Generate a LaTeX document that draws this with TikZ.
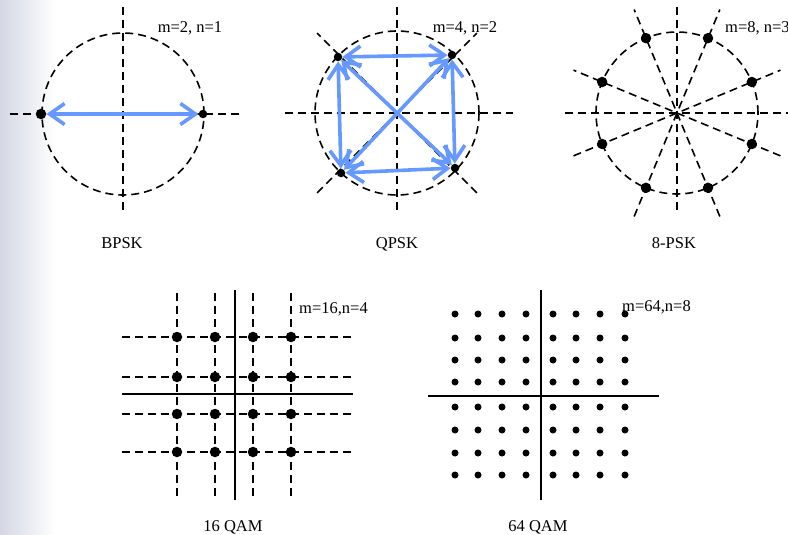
\documentclass[tikz,border=0pt]{standalone}
\usepackage{fontspec}
\setmainfont{Liberation Serif}
\usetikzlibrary{arrows.meta,calc}
\definecolor{arrblue}{RGB}{102,153,255}
\definecolor{edgegray}{RGB}{212,215,228}
\begin{document}
\begin{tikzpicture}[x=1pt,y=-1pt,
  dline/.style={line width=1.6pt,dash pattern=on 8pt off 5pt},
  sline/.style={line width=1.8pt},
  dot/.style={circle,fill=black,inner sep=0pt,minimum size=10.5pt},
  sdot/.style={circle,fill=black,inner sep=0pt,minimum size=8.5pt},
  qdot/.style={circle,fill=black,inner sep=0pt,minimum size=7pt},
  barr/.style={draw=arrblue,line width=3.6pt,line cap=round,
    {Straight Barb[length=15pt,width=21pt]}-{Straight Barb[length=15pt,width=21pt]}},
  lbl/.style={font=\fontsize{16.5}{18}\selectfont,anchor=base,inner sep=0pt}]
\useasboundingbox (0,0) rectangle (788,535);
\clip (0,0) rectangle (788,535);
\fill[white] (0,0) rectangle (788,535);
\shade[left color=edgegray,right color=white] (0,0) rectangle (55,535);

% ---------- BPSK ----------
\coordinate (bc) at (123,114);
\draw[dline] (bc) circle (81pt);
\draw[dline] (123,7) -- (123,213);
\draw[dline] (10,114) -- (243,114);
\node[dot] (b1) at (41,114) {};
\node[sdot] (b2) at (203,114) {};
\draw[barr] (b1) -- (b2);
\node[lbl] (bname) at (122,248) {BPSK};
\node[lbl] (bmn) at (190,33) {m=2, n=1};

% ---------- QPSK ----------
\coordinate (qc) at (397,113);
\draw[dline] (qc) circle (82pt);
\draw[dline] (397,7) -- (397,212);
\draw[dline] (285,113) -- (513,113);
\draw[dline] ($(qc)+(45:113)$) -- ($(qc)+(225:113)$);
\draw[dline] ($(qc)+(135:113)$) -- ($(qc)+(315:113)$);
\node[sdot] (q1) at (338,57) {};
\node[sdot] (q2) at (452,55) {};
\node[sdot] (q3) at (341,173) {};
\node[sdot] (q4) at (455,168) {};
\draw[barr] (q1) -- (q2);
\draw[barr] (q1) -- (q3);
\draw[barr] (q2) -- (q4);
\draw[barr] (q3) -- (q4);
\draw[barr] (q1) -- (q4);
\draw[barr] (q3) -- (q2);
\node[lbl] (qname) at (397,248) {QPSK};
\node[lbl] (qmn) at (465,33) {m=4, n=2};

% ---------- 8-PSK ----------
\coordinate (pc) at (677,113);
\draw[dline] (pc) circle (81pt);
\draw[dline] (677,7) -- (677,212);
\draw[dline] (565,113) -- (800,113);
\foreach \a in {22.5,67.5,112.5,157.5}{
  \draw[dline] ($(pc)+(\a:112)$) -- ($(pc)+(\a+180:112)$);
}
\foreach \k in {0,...,7}{
  \node[dot] (p\k) at ($(pc)+(22.5+45*\k:81)$) {};
}
\node[lbl] (pname) at (674,248) {8-PSK};
\node[lbl,anchor=base west] (pmn) at (725,33) {m=8, n=3};

% ---------- 16 QAM ----------
\foreach \x in {177,215,253,291}{
  \draw[dline] (\x,293) -- (\x,498);
}
\foreach \y in {337,377,414,452}{
  \draw[dline] (122,\y) -- (353,\y);
}
\draw[sline] (235,290) -- (235,500);
\draw[sline] (122,394) -- (353,394);
\foreach \x [count=\i] in {177,215,253,291}{
  \foreach \y [count=\j] in {337,377,414,452}{
    \node[dot] (s\i\j) at (\x,\y) {};
  }
}
\node[lbl] (sname) at (233,531) {16 QAM};
\node[lbl,anchor=base west] (smn) at (299,313) {m=16,n=4};

% ---------- 64 QAM ----------
\draw[sline] (541,290) -- (541,500);
\draw[sline] (428,396) -- (659,396);
\foreach \x [count=\i] in {455,478,502,526,553,576,600,625}{
  \foreach \y [count=\j] in {314,338,360,382,407,430,453,475}{
    \node[qdot] (t\i-\j) at (\x,\y) {};
  }
}
\node[lbl] (tname) at (538,531) {64 QAM};
\node[lbl,anchor=base west] (tmn) at (622,311) {m=64,n=8};
\end{tikzpicture}
\end{document}
